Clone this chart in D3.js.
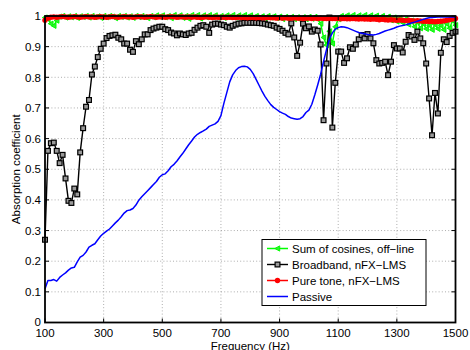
<!DOCTYPE html>
<html><head><meta charset="utf-8">
<script src="https://cdn.jsdelivr.net/npm/d3@7"></script>
<style>
html,body{margin:0;padding:0;background:#fff;}
text{font-family:"Liberation Sans",Arial,Helvetica,sans-serif;}
</style></head>
<body>
<svg id="chart" width="470" height="350"></svg>
<script>
// ---- data (10 Hz steps, 100..1500 Hz) ----
const freqStart = 100, freqStep = 10;
const xTicks = [100, 300, 500, 700, 900, 1100, 1300, 1500];
const yTicks = [0, 0.1, 0.2, 0.3, 0.4, 0.5, 0.6, 0.7, 0.8, 0.9, 1];
const yTickLabels = ["0", "0.1", "0.2", "0.3", "0.4", "0.5", "0.6", "0.7", "0.8", "0.9", "1"];
const seriesNames = ["Sum of cosines, off\u2212line", "Broadband, nFX\u2212LMS", "Pure tone, nFX\u2212LMS", "Passive"];
const xLabel = "Frequency (Hz)";
const yLabel = "Absorption coefficient";

const sumOfCosines = [
0.995,0.99,0.975,0.968,0.985,0.998,1.0,0.995,0.999,0.996,
1.0,0.994,0.999,0.997,1.0,0.995,1.0,0.996,0.999,0.994,
1.0,0.996,1.0,0.998,0.993,1.0,0.997,1.0,0.995,0.999,
0.994,1.0,0.996,1.0,0.997,0.993,1.0,0.996,1.002,0.998,
1.002,0.996,1.0,0.993,1.003,0.997,1.002,0.994,1.0,0.991,
1.003,0.997,1.003,0.992,1.002,0.996,1.003,0.997,1.002,0.995,
1.0,0.994,1.002,0.996,1.003,0.995,1.002,0.996,1.003,0.997,
1.002,0.995,1.0,0.994,0.999,0.993,1.0,0.995,0.999,0.993,
0.998,0.99,0.997,0.991,0.997,0.99,0.996,0.988,0.996,0.99,
0.997,0.991,0.997,0.99,0.975,0.93,0.905,0.95,0.91,0.965,
0.99,1.0,0.996,1.002,0.995,1.003,0.996,1.002,0.994,1.003,
0.995,1.002,0.996,1.001,0.993,1.0,0.99,0.998,0.986,0.995,
0.982,0.993,0.978,0.99,0.972,0.985,0.965,0.98,0.96,0.975,
0.958,0.97,0.955,0.972,0.958,0.97,0.955,0.975,0.96,0.985,
0.97];

const broadband = [
0.27,0.56,0.585,0.587,0.56,0.52,0.547,0.47,0.397,0.39,
0.437,0.418,0.555,0.634,0.704,0.726,0.809,0.835,0.866,0.893,
0.91,0.928,0.935,0.937,0.939,0.929,0.924,0.91,0.91,0.89,
0.883,0.918,0.908,0.924,0.94,0.94,0.954,0.959,0.962,0.965,
0.965,0.957,0.954,0.946,0.943,0.937,0.943,0.94,0.938,0.943,
0.945,0.955,0.962,0.968,0.97,0.965,0.945,0.972,0.975,0.975,
0.972,0.97,0.965,0.962,0.968,0.972,0.975,0.976,0.978,0.978,
0.978,0.978,0.978,0.977,0.976,0.975,0.972,0.97,0.968,0.962,
0.958,0.952,0.945,0.94,0.976,0.93,0.87,0.913,0.975,0.96,
0.966,0.949,0.956,0.952,0.907,0.66,0.845,0.995,0.636,0.782,
0.884,0.884,0.847,0.862,0.898,0.893,0.907,0.924,0.938,0.927,
0.941,0.927,0.911,0.856,0.845,0.847,0.851,0.807,0.851,0.905,
0.894,0.894,0.881,0.916,0.938,0.933,0.922,0.949,0.927,0.911,
0.845,0.731,0.611,0.749,0.682,0.88,0.924,0.915,0.935,0.945,
0.949];

const pureTone = [
0.986,0.993,0.996,0.997,0.996,0.997,0.998,0.997,0.996,0.997,
0.998,0.997,0.996,0.997,0.998,0.997,0.997,0.996,0.997,0.998,
0.997,0.996,0.997,0.998,0.997,0.996,0.997,0.998,0.997,0.997,
0.996,0.997,0.998,0.997,0.996,0.997,0.998,0.997,0.996,0.997,
0.997,0.996,0.997,0.998,0.997,0.996,0.997,0.997,0.996,0.997,
0.996,0.997,0.996,0.995,0.996,0.997,0.996,0.995,0.996,0.996,
0.995,0.996,0.995,0.996,0.995,0.995,0.996,0.995,0.995,0.994,
0.995,0.995,0.994,0.995,0.994,0.994,0.995,0.994,0.994,0.993,
0.994,0.993,0.994,0.993,0.993,0.994,0.993,0.993,0.992,0.993,
0.993,0.992,0.993,0.992,0.993,0.992,0.992,0.993,0.992,0.992,
0.992,0.991,0.992,0.991,0.991,0.992,0.991,0.99,0.991,0.99,
0.99,0.989,0.99,0.989,0.988,0.989,0.988,0.987,0.988,0.987,
0.986,0.987,0.986,0.985,0.986,0.985,0.984,0.985,0.984,0.983,
0.983,0.982,0.982,0.981,0.982,0.983,0.984,0.986,0.988,0.99,
0.992];

const passive = [
0.11,0.137,0.137,0.14,0.135,0.147,0.155,0.162,0.171,0.178,
0.18,0.198,0.213,0.219,0.23,0.246,0.252,0.257,0.27,0.282,
0.291,0.298,0.305,0.315,0.325,0.334,0.345,0.357,0.365,0.367,
0.372,0.383,0.399,0.41,0.42,0.43,0.44,0.45,0.46,0.474,
0.482,0.485,0.495,0.508,0.516,0.527,0.54,0.552,0.566,0.58,
0.592,0.605,0.614,0.62,0.625,0.631,0.64,0.644,0.648,0.656,
0.675,0.715,0.75,0.785,0.808,0.822,0.831,0.835,0.836,0.834,
0.826,0.812,0.793,0.774,0.755,0.738,0.724,0.711,0.702,0.695,
0.688,0.683,0.679,0.672,0.667,0.665,0.663,0.665,0.672,0.685,
0.693,0.712,0.742,0.775,0.81,0.852,0.89,0.925,0.945,0.957,
0.962,0.965,0.964,0.962,0.958,0.954,0.95,0.946,0.944,0.942,
0.94,0.939,0.938,0.94,0.943,0.947,0.951,0.954,0.957,0.96,
0.964,0.967,0.969,0.971,0.974,0.977,0.98,0.983,0.986,0.989,
0.992,0.994,0.995,0.996,0.997,0.997,0.997,0.997,0.997,0.997,
0.997];

const colors = ["#00ff00", "#000000", "#ff0000", "#0000ff"];

// ---- drawing ----
const svg = d3.select("#chart");
const L = 45, R = 455.5, T = 16, B = 322.5;
const x = d3.scaleLinear().domain([100, 1500]).range([L, R]);
const y = d3.scaleLinear().domain([0, 1]).range([B, T]);
const fs = "11.5px";

// grid
const grid = svg.append("g").attr("stroke", "#999").attr("stroke-width", 0.8).attr("stroke-dasharray", "1,2.2");
xTicks.slice(1, -1).forEach(t => grid.append("line").attr("x1", x(t)).attr("x2", x(t)).attr("y1", T).attr("y2", B));
yTicks.slice(1, -1).forEach(t => grid.append("line").attr("x1", L).attr("x2", R).attr("y1", y(t)).attr("y2", y(t)));

const toPts = arr => arr.map((v, i) => [freqStart + i * freqStep, v]);
const line = d3.line().x(d => x(d[0])).y(d => y(d[1]));
const plot = svg.append("g");

const triLeft = s => `M${-s},0L${s*0.85},${-s}L${s*0.85},${s}Z`;

function drawSeries(arr, color, width, marker) {
  const pts = toPts(arr);
  plot.append("path").datum(pts).attr("d", line).attr("fill", "none")
    .attr("stroke", color).attr("stroke-width", width).attr("stroke-linejoin", "round");
  const g = plot.append("g");
  pts.forEach(p => marker(g, x(p[0]), y(p[1])));
}
const mkTri = (g, cx, cy) => g.append("path").attr("d", triLeft(2.6)).attr("transform", `translate(${cx},${cy})`)
    .attr("fill", "#33ee33").attr("stroke", "#00ff00").attr("stroke-width", 1);
const mkSq = (g, cx, cy) => g.append("rect").attr("x", cx - 2.4).attr("y", cy - 2.4).attr("width", 4.8).attr("height", 4.8)
    .attr("fill", "#999").attr("stroke", "#000").attr("stroke-width", 1.2);
const mkDot = (g, cx, cy) => g.append("circle").attr("cx", cx).attr("cy", cy).attr("r", 2.7).attr("fill", "#ff0000");
const mkNone = () => {};

drawSeries(sumOfCosines, colors[0], 1.5, mkTri);
drawSeries(broadband, colors[1], 1.4, mkSq);
drawSeries(pureTone, colors[2], 3, mkDot);
drawSeries(passive, colors[3], 1.5, mkNone);

// ticks inward
const tk = svg.append("g").attr("stroke", "#000").attr("stroke-width", 1);
xTicks.forEach(t => {
  tk.append("line").attr("x1", x(t)).attr("x2", x(t)).attr("y1", B).attr("y2", B - 4);
  tk.append("line").attr("x1", x(t)).attr("x2", x(t)).attr("y1", T).attr("y2", T + 4);
});
yTicks.forEach(t => {
  tk.append("line").attr("x1", L).attr("x2", L + 4).attr("y1", y(t)).attr("y2", y(t));
  tk.append("line").attr("x1", R).attr("x2", R - 4).attr("y1", y(t)).attr("y2", y(t));
});

// box
svg.append("rect").attr("x", L).attr("y", T).attr("width", R - L).attr("height", B - T)
  .attr("fill", "none").attr("stroke", "#000").attr("stroke-width", 1.8);

// tick labels
svg.append("g").selectAll("text").data(xTicks).join("text")
  .attr("x", d => x(d)).attr("y", 337).attr("text-anchor", "middle").attr("font-size", fs).text(d => d);
svg.append("g").selectAll("text").data(yTicks).join("text")
  .attr("x", 41).attr("y", d => y(d) + 4.2 - (d === 0 ? 1 : 0)).attr("text-anchor", "end").attr("font-size", fs)
  .text((d, i) => yTickLabels[i]);

// axis labels
svg.append("text").attr("x", (L + R) / 2).attr("y", 350).attr("text-anchor", "middle").attr("font-size", fs).text(xLabel);
svg.append("text").attr("transform", `translate(20,${(T + B) / 2}) rotate(-90)`).attr("text-anchor", "middle")
  .attr("font-size", fs).text(yLabel);

// legend
const lg = svg.append("g");
lg.append("rect").attr("x", 262).attr("y", 239.5).attr("width", 164).attr("height", 66)
  .attr("fill", "#fff").attr("stroke", "#000").attr("stroke-width", 1);
const markers = [mkTri, mkSq, mkDot, mkNone];
const widths = [1.5, 1.4, 1.5, 1.5];
seriesNames.forEach((name, i) => {
  const cy = 248.5 + i * 16;
  lg.append("line").attr("x1", 267).attr("x2", 288).attr("y1", cy).attr("y2", cy)
    .attr("stroke", colors[i]).attr("stroke-width", widths[i]);
  markers[i](lg, 277.5, cy);
  lg.append("text").attr("x", 292).attr("y", cy + 4).attr("font-size", fs).text(name);
});
</script>
</body></html>
